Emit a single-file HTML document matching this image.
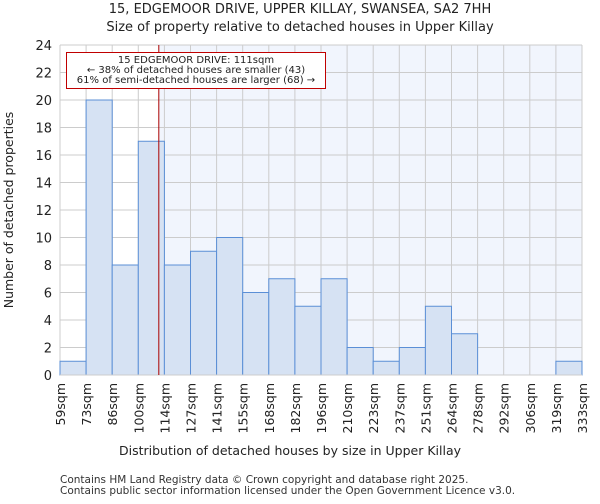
<!DOCTYPE html>
<html><head><meta charset="utf-8"><style>
body{margin:0;background:#fff;font-family:"DejaVu Sans","Liberation Sans",sans-serif}
</style></head><body>
<svg width="600" height="500" xmlns="http://www.w3.org/2000/svg" font-family="DejaVu Sans, Liberation Sans, sans-serif">
<text x="300" y="13" text-anchor="middle" font-size="13" fill="#222">15, EDGEMOOR DRIVE, UPPER KILLAY, SWANSEA, SA2 7HH</text>
<text x="300" y="31" text-anchor="middle" font-size="13" fill="#222">Size of property relative to detached houses in Upper Killay</text>
<g id="plot"></g>
<text x="290" y="455" text-anchor="middle" font-size="12.5" fill="#222">Distribution of detached houses by size in Upper Killay</text>
<text transform="translate(13,210) rotate(-90)" text-anchor="middle" font-size="12.5" fill="#222">Number of detached properties</text>
<text x="60" y="483" font-size="10.5" fill="#333">Contains HM Land Registry data © Crown copyright and database right 2025.</text>
<text x="60" y="494" font-size="10.5" fill="#333">Contains public sector information licensed under the Open Government Licence v3.0.</text>
</svg>
<script>
const binLabels=["59sqm","73sqm","86sqm","100sqm","114sqm","127sqm","141sqm","155sqm","168sqm","182sqm","196sqm","210sqm","223sqm","237sqm","251sqm","264sqm","278sqm","292sqm","306sqm","319sqm","333sqm"];
const counts=[1,20,8,17,8,9,10,6,7,5,7,2,1,2,5,3,0,0,0,1];
const yTicks=[0,2,4,6,8,10,12,14,16,18,20,22,24];
const propertyIndex=3+11/14;
const NS="http://www.w3.org/2000/svg";
const g=document.getElementById('plot');
const X0=60,X1=582,Y0=375,Y1=45,yMax=24;
const bw=(X1-X0)/counts.length;
const xs=i=>X0+i*bw;
const ys=v=>Y0-(Y0-Y1)*v/yMax;
function mk(t,a){const e=document.createElementNS(NS,t);for(const k in a)e.setAttribute(k,a[k]);g.appendChild(e);return e;}
const px=xs(propertyIndex);
let e=mk('rect',{x:px,y:Y1,width:X1-px,height:Y0-Y1,fill:'#f1f5fd'});


yTicks.forEach(t=>{let l=mk('line',{x1:X0,x2:X1,y1:ys(t),y2:ys(t),stroke:'#cccccc','stroke-width':1});


let tx=mk('text',{x:X0-8,y:ys(t)+5,'text-anchor':'end','font-size':13,fill:'#222'});tx.textContent=t;

});
binLabels.forEach((s,i)=>{let l=mk('line',{x1:xs(i),x2:xs(i),y1:Y1,y2:Y0,stroke:'#cccccc','stroke-width':1});


let tx=mk('text',{transform:`translate(${xs(i)+5},383) rotate(-90)`,'text-anchor':'end','font-size':12.5,fill:'#222'});tx.textContent=s;

});
counts.forEach((c,i)=>{if(!c)return;let r=mk('rect',{x:xs(i),y:ys(c),width:bw,height:Y0-ys(c),fill:'#d6e2f3',stroke:'#5b8fd6','stroke-width':1});

});
let al=mk('line',{x1:X0,x2:X1,y1:Y0,y2:Y0,stroke:'#cccccc','stroke-width':1});


let ml=mk('line',{x1:px,x2:px,y1:Y1,y2:Y0,stroke:'#aa0000','stroke-width':1});


let box=mk('rect',{x:66.5,y:52.5,width:259,height:36,fill:'#fff',stroke:'#c00000','stroke-width':1});


["15 EDGEMOOR DRIVE: 111sqm","← 38% of detached houses are smaller (43)","61% of semi-detached houses are larger (68) →"].forEach((s,i)=>{let t=mk('text',{x:196,y:63+i*10,'text-anchor':'middle','font-size':10,fill:'#222'});t.textContent=s;

});
</script>
</body></html>
